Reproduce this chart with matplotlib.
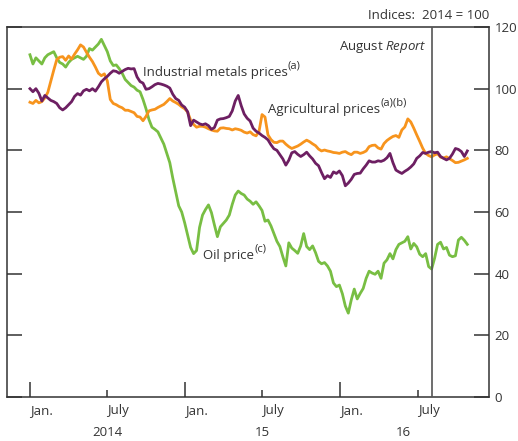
import matplotlib
matplotlib.use("Agg")
import matplotlib.pyplot as plt
import matplotlib.dates as mdates
import matplotlib.transforms as mtransforms
import pandas as pd

plt.rcParams['font.family'] = ['Open Sans', 'DejaVu Sans']
plt.rcParams['mathtext.fontset'] = 'custom'
plt.rcParams['mathtext.rm'] = 'Open Sans'
plt.rcParams['mathtext.it'] = 'Open Sans:italic'

# weekly observations, Jan 2014 to late Oct 2016 (indices, 2014 = 100)
dates = pd.date_range('2014-01-01', periods=148, freq='7D')

oil = [
    111, 108, 110, 109, 108, 110, 111, 111.5, 112, 110,
    108.5, 108, 107, 108.5, 109.5, 110, 110.5, 110, 109.5, 110.5,
    113, 112.5, 113.5, 114.5, 116, 114, 112, 109, 107.5, 107.7,
    106.5, 105, 103, 102, 101, 100.5, 99.5, 99, 96.5, 93.5,
    90, 87.5, 86.8, 86, 84, 82, 79, 76, 71, 66.5,
    62, 60, 56.5, 52.5, 48.5, 46.5, 47.5, 55, 59, 60.8,
    62.3, 59.8, 55.8, 52, 55.2, 56.3, 57.4, 59, 62.5, 65.5,
    66.8, 66, 65.5, 64.2, 63.5, 62.5, 63.3, 62, 60.5, 57,
    57.4, 55.5, 53, 50.5, 48.8, 45.5, 42.5, 50, 48.3, 47.5,
    46.6, 49, 53, 48.8, 47.8, 49, 46.8, 44, 43.2, 43.6,
    42.5, 40.8, 37, 35.8, 36.3, 33.5, 29.5, 27.2, 31.5, 35,
    31.8, 33.6, 35.2, 38.5, 40.8, 40.2, 39.8, 40.8, 38.5, 43.4,
    44.5, 46.5, 44.8, 47.8, 49.5, 50, 50.5, 52, 48, 49.8,
    48.7, 46.3, 45.5, 46.5, 42.3, 41.5, 45, 49.5, 50.2, 48,
    48.5, 46, 45.5, 45.8, 50.9, 51.8, 50.8, 49.5,
]

metals = [
    100, 99, 100, 98.5, 96, 97.8, 97, 96.2, 95.8, 95.2,
    93.8, 93.1, 93.8, 94.8, 95.8, 97.5, 98.4, 97.9, 99.3, 99.8,
    99.3, 100, 99.2, 100.6, 102.2, 103.2, 104, 105, 105.8, 105.6,
    105, 105.6, 106.2, 106.6, 106.4, 106.5, 103.8, 102.3, 101.8, 99.8,
    100, 100.6, 101.3, 101.7, 101.5, 101.2, 100.8, 100.2, 98.2, 96.8,
    96.2, 94.7, 94, 92.5, 88, 89.8, 89.2, 88.6, 88.3, 88.6,
    88, 86.8, 87.4, 89.8, 90.2, 90.3, 90.6, 91, 92.8, 96,
    97.8, 94.5, 91.8, 90.4, 89.5, 87.2, 86.2, 85.6, 84.8, 84.2,
    83.4, 81.8, 80.5, 80, 78.6, 77.2, 75.2, 76.8, 79.2, 79.6,
    78.7, 78, 78.6, 79.4, 78.2, 77.2, 75.8, 75, 72.8, 70.8,
    71.8, 71.2, 73, 72.5, 73.3, 71.8, 68.5, 69.4, 70.6, 72.2,
    72.5, 72.6, 74, 75.2, 76.6, 76.2, 76.2, 76.6, 76.4, 76.8,
    77.6, 79, 76, 73.6, 73, 72.5, 73.2, 73.8, 74.6, 75.6,
    77.4, 78.2, 79.3, 79, 79.4, 79.6, 79.2, 79.4, 78, 77.4,
    76.9, 77.4, 78.8, 80.6, 80.3, 79.6, 78, 79.8,
]

agri = [
    95.6, 95.2, 96.2, 95.4, 95.8, 97, 98.8, 102.4, 106, 109.4,
    110.2, 110.4, 109.2, 110.6, 109.6, 111.2, 112.6, 114.2, 113.5, 111.8,
    110.2, 108.8, 107, 105, 104.2, 104.8, 102.5, 96.5, 95.2, 94.8,
    94.2, 93.8, 93, 93, 92.6, 92.2, 91, 90.8, 89.6, 91,
    92.8, 93.1, 93.3, 93.9, 94.4, 94.9, 95.8, 96.8, 96, 95.5,
    94.9, 94.1, 93.5, 92.4, 89.8, 88.4, 87.5, 87.8, 87.8, 87.5,
    87, 86.6, 86.3, 86.2, 87.2, 87.3, 87.1, 87, 86.6, 87,
    86.8, 86.5, 85.9, 85.6, 86, 85.1, 84.7, 86.2, 91.6, 90.8,
    85, 83.5, 82.6, 82.5, 83, 83, 82, 81.2, 80.6, 81,
    81.4, 82, 82.7, 83.3, 82.8, 82.1, 81.5, 80.4, 79.8, 80.1,
    79.8, 79.6, 79.3, 79.2, 79, 79.4, 79.6, 79, 78.6, 79.4,
    79.4, 79, 79.3, 79.8, 81.2, 81.6, 81.7, 80.8, 80.4, 82.2,
    83.2, 83.9, 84.5, 84.8, 84.2, 86.6, 87.6, 90.2, 89.2, 87.2,
    85, 82.9, 80.7, 79, 78.3, 77.9, 78.5, 78.9, 77.8, 77.5,
    77.9, 77.3, 76.7, 76, 76.1, 76.5, 76.9, 77.4,
]

report_date = pd.Timestamp('2016-08-04')
year_names = ['2014', '15', '16']

TXT = '#333333'
FS = 9.5

fig = plt.figure(figsize=(5.18, 4.41), dpi=100)
ax = fig.add_axes([7 / 518, 44 / 441, 482 / 518, 370 / 441])

ax.plot(dates, oil, color='#78be43', lw=2.0, zorder=3)
ax.plot(dates, agri, color='#f7941d', lw=2.0, zorder=4)
ax.plot(dates, metals, color='#6d1f62', lw=2.0, zorder=5)
ax.axvline(report_date, color='#555555', lw=1.2, zorder=6)

ax.set_xlim(pd.Timestamp('2013-11-08'), pd.Timestamp('2016-12-16'))
ax.set_ylim(0, 120)

ax.xaxis.set_major_locator(mdates.MonthLocator(bymonth=1))
ax.xaxis.set_minor_locator(mdates.MonthLocator(bymonth=7))
ax.xaxis.set_major_formatter(mdates.DateFormatter('Jan.'))
ax.xaxis.set_minor_formatter(mdates.DateFormatter('July'))
ax.tick_params(axis='x', which='major', direction='in', length=11, width=1.1,
               colors=TXT, labelsize=FS, pad=5)
ax.tick_params(axis='x', which='minor', direction='in', length=5, width=1.1,
               colors=TXT, labelsize=FS, pad=5)
for lab in ax.get_xticklabels(which='both'):
    lab.set_horizontalalignment('left')

ax.set_yticks([0, 20, 40, 60, 80, 100, 120])
ax.tick_params(axis='y', direction='in', length=11, width=1.1, left=True, right=True,
               labelleft=False, labelright=True, colors=TXT, labelsize=FS, pad=4)

for s in ax.spines.values():
    s.set_color(TXT)
    s.set_linewidth(1.1)

# year labels centred over each year's stretch of data
trans = mtransforms.blended_transform_factory(ax.transData, ax.transAxes)
for k, name in enumerate(year_names):
    start = pd.Timestamp(f'{2014 + k}-01-01')
    end = min(pd.Timestamp(f'{2015 + k}-01-01'), dates[-1])
    mid = start + (end - start) / 2
    ax.text(mid, -0.095, name, transform=trans, ha='center', va='center',
            fontsize=FS, color=TXT)

ax.text(1.0, 1.032, 'Indices:  2014 = 100', transform=ax.transAxes,
        ha='right', va='center', fontsize=FS, color=TXT)
ax.text(pd.Timestamp('2016-07-23'), 113.6, r'August $\mathit{Report}$',
        ha='right', va='center', fontsize=FS, color=TXT)


def label(x, y, main, sup):
    t = ax.text(x, y, main, ha='left', va='center', fontsize=FS, color=TXT)
    ax.annotate(sup, xy=(1, 0.55), xycoords=t, ha='left', va='bottom',
                fontsize=FS - 1.5, color=TXT)


label(pd.Timestamp('2014-09-24'), 105.4, 'Industrial metals prices', '(a)')
label(pd.Timestamp('2015-07-16'), 93.2, 'Agricultural prices', '(a)(b)')
label(pd.Timestamp('2015-02-13'), 46, 'Oil price', '(c)')

fig.savefig('out.png', dpi=100)
